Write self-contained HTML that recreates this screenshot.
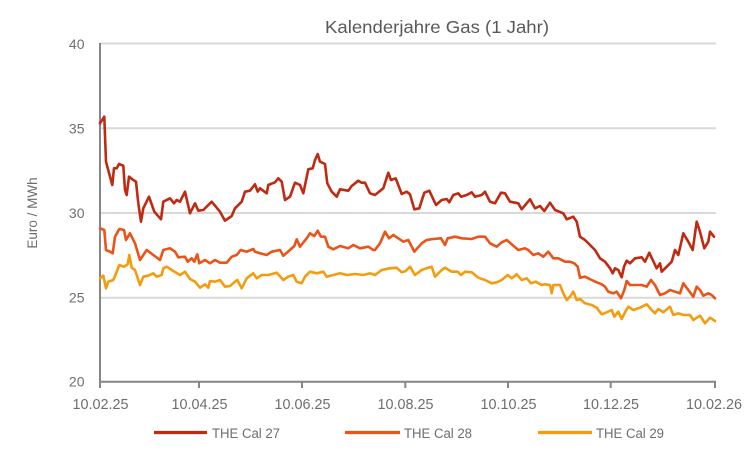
<!DOCTYPE html>
<html><head><meta charset="utf-8"><style>
html,body{margin:0;padding:0;background:#fff;}
body{width:750px;height:450px;overflow:hidden;}
svg{display:block;font-family:"Liberation Sans",sans-serif;}
</style></head><body>
<svg width="750" height="450" viewBox="0 0 750 450" xmlns="http://www.w3.org/2000/svg">
<rect width="750" height="450" fill="#fff"/>
<text x="437" y="33" font-size="17.5" fill="#595959" text-anchor="middle" textLength="224" lengthAdjust="spacingAndGlyphs">Kalenderjahre Gas (1 Jahr)</text>
<g stroke="#d9d9d9" stroke-width="2">
<line x1="100" y1="43.5" x2="716" y2="43.5"/>
<line x1="100" y1="128.3" x2="716" y2="128.3"/>
<line x1="100" y1="213" x2="716" y2="213"/>
<line x1="100" y1="297.7" x2="716" y2="297.7"/>
</g>
<g stroke="#868686" stroke-width="2" fill="none">
<line x1="100" y1="43" x2="100" y2="382"/>
<line x1="99" y1="381.7" x2="716" y2="381.7"/>
<line x1="100" y1="381" x2="100" y2="388"/>
<line x1="199" y1="381" x2="199" y2="388"/>
<line x1="302" y1="381" x2="302" y2="388"/>
<line x1="405.3" y1="381" x2="405.3" y2="388"/>
<line x1="508" y1="381" x2="508" y2="388"/>
<line x1="610.7" y1="381" x2="610.7" y2="388"/>
<line x1="715" y1="381" x2="715" y2="388"/>
</g>
<g font-size="14" fill="#6e6e6e" text-anchor="end">
<text x="84.5" y="49">40</text>
<text x="84.5" y="133.5">35</text>
<text x="84.5" y="218">30</text>
<text x="84.5" y="302.7">25</text>
<text x="84.5" y="386.7">20</text>
</g>
<g font-size="14.5" fill="#6e6e6e" text-anchor="middle">
<text x="100.5" y="409" textLength="56" lengthAdjust="spacingAndGlyphs">10.02.25</text>
<text x="199.5" y="409" textLength="56" lengthAdjust="spacingAndGlyphs">10.04.25</text>
<text x="302.5" y="409" textLength="56" lengthAdjust="spacingAndGlyphs">10.06.25</text>
<text x="405.5" y="409" textLength="56" lengthAdjust="spacingAndGlyphs">10.08.25</text>
<text x="508.5" y="409" textLength="56" lengthAdjust="spacingAndGlyphs">10.10.25</text>
<text x="611" y="409" textLength="56" lengthAdjust="spacingAndGlyphs">10.12.25</text>
<text x="714" y="409" textLength="56" lengthAdjust="spacingAndGlyphs">10.02.26</text>
</g>
<text transform="translate(37,213) rotate(-90)" font-size="13.5" fill="#6e6e6e" text-anchor="middle">Euro / MWh</text>
<g fill="none" stroke-width="2.6" stroke-linejoin="round" stroke-linecap="round">
<polyline stroke="#bf2a12" points="100,123.3 104.3,116.7 106,161.7 110,176.7 112.3,185 114,168.3 116.7,168.3 119,164 123.3,165.7 125,190 126.7,195 129,176.7 133.3,180 136,181.7 138.3,203.3 141,221.7 143.3,208.3 149,196.7 154.3,211.7 161,219.3 163.3,201.7 170,198.3 174,203.3 176.7,200 180,201.7 185,191.7 190,213.3 195,203.3 198.3,210.7 203.3,210 211.7,201.7 220,211.7 225,220.7 231.7,216 235,208.3 241.7,201.7 245,191.7 250,190.7 255,184.3 257.7,191.7 260,188.3 266.7,193.3 268.3,185 275,182.3 278.3,178.3 281.7,181.7 285,200 290,196.7 295,182.7 300,185 303.3,193.3 308.3,169.3 312.7,168.3 315,160 317.7,154 320,161.7 325,164 327.3,183.3 331.7,191.7 336.7,196.7 340,189.3 348.3,190.7 351.7,186 358.3,180.7 361.7,182.7 365,182.7 370,193.3 375,195 383.3,188.3 388.3,172.7 391,180 395.7,178.3 401.7,194 406.7,191.7 410,194.3 414.3,209.3 419.3,208.3 424.3,192.7 429.3,190.7 436,205 441.7,200 446.7,199 449.3,202.3 453.3,195 458.3,193.3 461,196.7 466.7,195 471.7,192.3 475,196.7 481.7,195 485,191.7 490,201.7 495,203.3 501,192.7 505,193.3 510,201.7 518.3,203.3 521.7,209.3 530,199.3 535,208.3 540,206 544.3,211 550,202.7 555,210 563.3,213.3 566.7,219.3 573.3,216.7 576.7,221.7 580,236.7 585,240 590,245 595,250 600,258.3 605,261.7 610,268.3 612.7,273.3 615,268.3 618.3,270 621.7,277.3 624,266.7 626.7,260.7 630,263.3 635,258.3 641.7,257.3 645,261.7 649.3,252.7 652.7,260 656.7,268.3 660,263.3 661.7,271.7 666.7,266.7 671.7,261.7 675,250 678.3,255 683.3,233.3 688.3,241.7 692.7,250 696.7,221.7 700,231.7 704.3,248.3 708.3,241.7 710,231.7 714,236.7"/>
<polyline stroke="#ea5419" points="100,228.3 104.3,230 106,250 110,251.7 112.7,253.3 115,236.7 119.3,229 124,230 126,240 130,233.3 135,243.3 140,260 146.7,250 153.3,255 160,260 163.3,250 170,248.3 175,251.7 178.3,257.3 185,256.7 187.7,261.7 191.7,258.3 194.3,261.7 197.3,254.3 199.3,263.3 205,260 210,263.3 215,260 220,262.7 226.7,262.7 231.7,256.7 236.7,255 240.7,250 246.7,251.7 253.3,249 255,251.7 260,253.3 266.7,255 271.7,251.7 280,250 283.3,255.7 290,250 294.3,246 296.7,239.3 300,246.7 306.7,238.3 310,233.3 314.3,236 317.7,230.7 321,236.7 325,236.7 328.3,246.7 333.3,249.3 340,246 348.3,248.3 353.3,245 360,248.3 368.3,246.7 373.3,250 375,250 380,243.3 385,231.7 389,238.3 393.3,235 398.3,238.3 403.3,241.7 408.3,240 414.3,251.7 421.7,243.3 426.7,240 433.3,239 441,238.3 445,245 447.7,238.3 455,236.7 461.7,238.3 471.7,239 478.3,236.7 485,236.7 490,243.3 496.7,246.7 501.7,242.3 506.7,240 513.3,245.7 518.3,250 525,248.3 528.3,250 533.3,255 538.3,253.3 543.3,256.7 548.3,251.7 553.3,258.3 558.3,258.3 565,261.7 570,261.7 574.3,263.3 577.7,266.7 580,277.7 585,276.7 591.7,280 596.7,282.3 601.7,284.3 605,286.7 608.3,291.7 613.3,293.3 616.7,291.7 621,298.3 624.3,290 626.7,281 630,285 635,285 641.7,285 646.7,286.7 651,280 655,285 660,295 665,293.3 670,290 675,291.7 680,293.3 683.3,283.3 688.3,290 693.3,296.7 696.7,286.7 700,290 703.3,295.7 708.3,293.3 711.7,295 715,298.3"/>
<polyline stroke="#f39c0e" points="100,278.3 103.3,275.7 106,288.3 108.3,281.7 113.3,280 116.7,271.7 119.3,265 124,266.7 127.7,264.3 129.3,255 131.7,267.7 135,270 140,285 143.3,276.7 148.3,275.7 153.3,273.3 156.7,276.7 161.7,275 163.3,268.3 166.7,266.7 173.3,271 180,275 185,271.7 190,279 195,281.7 200,287.7 205,284.3 208.3,287.7 210,281 215,281.7 220,280 225,286.7 230,286 235,281.7 237.3,280 241.7,288.3 246.7,278.3 253.3,273.3 256.7,278.3 261.7,275 268.3,275 276.7,272.7 283.3,280 288.3,276.7 293.3,275 296.7,281.7 301.7,283.3 305,276.7 310,271.7 316.7,273.3 323.3,271.7 326.7,276.7 333.3,275 340,273.3 346.7,275 355,274 363.3,275 370,273.3 375,275 381.7,270 390,268.3 396.7,267.7 401.7,272.3 405.7,271 410,266.7 415,275 421.7,270 428.3,267.7 431.7,266.7 435,276.7 441.7,270 445,267.7 451.7,271.7 457.7,271.7 461,275 465,271.7 471.7,272.3 478.3,277.7 485,280 491.7,283.3 496.7,282.3 501.7,280 507.7,275 511.7,278.3 516.7,274.3 521.7,280 526.7,278.3 531,283.3 535.7,281.7 541.7,285 545,284.3 550,285 551.7,293.3 553.3,285 560,285 563.3,293.3 566.7,300 570,296.7 573.3,291.7 576.7,300 580,299 585,303.3 591.7,305 596.7,307.7 601.7,314.3 606.7,312.3 611.7,310 614.3,316.7 618.3,311.7 621.7,319 625,312.3 628.3,306.7 633.3,310 640,307.7 646.7,304.3 651.7,310 655,313.3 658.3,309 663.3,312.3 670,306.7 673.3,315 678.3,313.3 683.3,315 690,315 693.3,320 700,315.7 705,323.3 710,317.7 715,321"/>
</g>
<g stroke-width="3.2">
<line x1="154" y1="432.5" x2="207" y2="432.5" stroke="#bf2a12"/>
<line x1="345" y1="432.5" x2="400" y2="432.5" stroke="#ea5419"/>
<line x1="538" y1="432.5" x2="592" y2="432.5" stroke="#f39c0e"/>
</g>
<g font-size="13.5" fill="#6e6e6e">
<text x="212" y="438" textLength="68" lengthAdjust="spacingAndGlyphs">THE Cal 27</text>
<text x="404" y="438" textLength="68" lengthAdjust="spacingAndGlyphs">THE Cal 28</text>
<text x="596" y="438" textLength="68" lengthAdjust="spacingAndGlyphs">THE Cal 29</text>
</g>
</svg>
</body></html>
